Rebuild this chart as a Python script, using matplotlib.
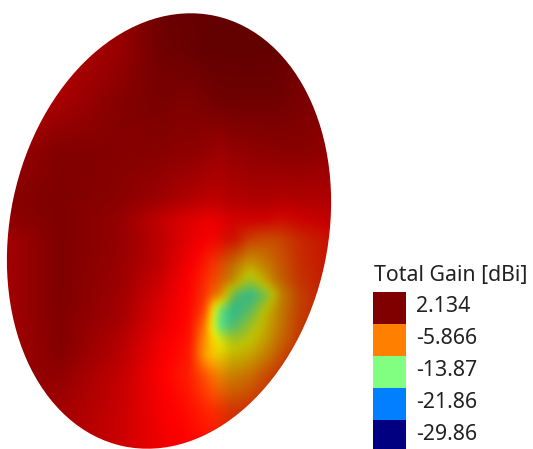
import numpy as np
import matplotlib
matplotlib.use('Agg')
import matplotlib.pyplot as plt
from matplotlib.colors import LinearSegmentedColormap
from matplotlib.patches import Ellipse, Rectangle

# legend
legend_title = 'Total Gain [dBi]'
legend_labels = ['2.134', '-5.866', '-13.87', '-21.86', '-29.86']
legend_colors = ['#800000', '#ff8000', '#80ff80', '#0080ff', '#000080']

# gain, in dBi
grid_x = [0, 60, 120, 160, 190, 205, 220, 235, 250, 265, 280, 300, 340]
grid_y = [0, 50, 100, 150, 200, 220, 240, 265, 280, 295, 310, 325, 340, 355, 375, 410, 449]
gain = [
    [0.0, 0.0, 0.8, 2.0, 2.1, 2.1, 2.1, 2.1, 2.1, 2.1, 2.0, 1.5, 1.5],
    [0.0, 0.0, 0.8, 2.0, 2.1, 2.1, 2.1, 2.1, 2.1, 2.1, 2.0, 1.5, 1.5],
    [0.0, 0.8, 1.9, 2.0, 1.5, 1.5, 1.6, 1.6, 1.6, 1.6, 1.5, 1.1, 1.1],
    [1.0, 2.0, 1.9, 1.7, 1.3, 0.9, 0.3, 0.4, 0.5, 0.6, 0.7, 0.7, 0.1],
    [1.8, 2.1, 1.7, 1.1, 0.4, 0.0, -0.4, -0.6, -0.5, -0.5, -0.8, -0.8, -1.0],
    [1.5, 2.1, 1.4, 0.0, -1.0, -1.5, -1.8, -2.0, -1.9, -2.0, -2.5, -2.1, -1.6],
    [0.8, 2.1, 1.4, 0.2, -1.2, -1.9, -2.3, -2.7, -4.5, -5.0, -4.7, -3.5, -2.3],
    [0.8, 2.1, 1.3, 0.0, -1.7, -2.8, -4.3, -6.7, -8.4, -7.1, -5.5, -3.8, -2.3],
    [0.8, 2.1, 1.2, -0.3, -2.0, -3.2, -5.0, -8.0, -11.5, -8.5, -6.0, -4.0, -2.3],
    [0.8, 2.1, 1.1, -0.6, -2.1, -3.5, -6.5, -14.0, -16.0, -13.0, -7.5, -4.5, -2.4],
    [0.8, 2.1, 1.0, -0.9, -2.2, -4.0, -14.0, -16.0, -14.0, -10.0, -7.0, -4.5, -2.4],
    [0.8, 2.0, 0.8, -1.1, -2.3, -5.5, -15.0, -14.5, -11.5, -9.0, -6.8, -4.2, -2.4],
    [0.8, 2.0, 0.5, -1.4, -2.5, -6.5, -10.5, -11.0, -10.0, -8.3, -6.2, -4.0, -2.4],
    [0.8, 1.9, 0.3, -1.6, -2.7, -7.0, -9.0, -9.2, -8.5, -7.0, -5.2, -3.2, -2.2],
    [1.6, 1.5, 0.0, -1.8, -2.9, -4.5, -6.5, -7.0, -6.3, -5.0, -3.8, -2.8, -2.0],
    [1.0, 1.0, -0.2, -1.6, -2.4, -3.0, -3.6, -4.0, -3.6, -3.0, -2.6, -2.2, -2.0],
    [0.8, 0.8, -0.3, -1.4, -1.9, -2.2, -2.4, -2.4, -2.4, -2.2, -2.0, -2.0, -2.0],
]

# surface darkening from the lighting, 0 = none
shade_x = [0, 120, 180, 212, 232, 340]
shade_y = [0, 50, 100, 200, 300, 449]
shade = [
    [0.0, 0.1, 0.2, 0.22, 0.22, 0.22],
    [0.0, 0.1, 0.15, 0.22, 0.22, 0.22],
    [0.0, 0.0, 0.1, 0.2, 0.22, 0.22],
    [0.0, 0.0, 0.0, 0.05, 0.15, 0.22],
    [0.0, 0.0, 0.0, 0.02, 0.28, 0.22],
    [0.0, 0.0, 0.0, 0.0, 0.15, 0.2],
]

# outline of the surface
center = (169, 231)
width, height, angle = 318, 440, 12

gain_cmap = LinearSegmentedColormap.from_list('gain', [
    (0.0, '#000080'), (0.125, '#0000ff'), (0.375, '#00ffff'),
    (0.625, '#ffff00'), (0.875, '#ff0000'), (1.0, '#800000')])


def resample(xs, ys, table, px, py):
    # bilinear lookup of a read-off table on the pixel raster
    table = np.array(table, dtype=float)
    rows = np.array([np.interp(px, xs, r) for r in table])
    return np.array([np.interp(py, ys, c) for c in rows.T]).T


def soften(img, n=7):
    k = np.ones(n) / n
    for axis in (0, 1):
        pad = [(n, n) if a == axis else (0, 0) for a in range(2)] + [(0, 0)] * (img.ndim - 2)
        img = np.apply_along_axis(lambda m: np.convolve(m, k, mode='same'), axis,
                                  np.pad(img, pad, mode='edge'))
        img = np.take(img, np.arange(n, img.shape[axis] - n), axis=axis)
    return img


px = np.arange(0, 341) + 0.5
py = np.arange(0, 449) + 0.5
gain_img = resample(grid_x, grid_y, gain, px, py)
shade_img = resample(shade_x, shade_y, shade, px, py)
rgb = gain_cmap((gain_img + 29.86) / (2.134 + 29.86))[..., :3] * (1 - shade_img[..., None])
rgb = soften(soften(rgb, 9), 7)

fig = plt.figure(figsize=(5.33, 4.49), dpi=100)
ax = fig.add_axes([0, 0, 1, 1])
ax.set_xlim(0, 533)
ax.set_ylim(449, 0)
ax.axis('off')

outline = Ellipse(center, width, height, angle=angle, transform=ax.transData)
im = ax.imshow(rgb, extent=(0, 341, 449, 0), aspect='auto', interpolation='bilinear')
ax.set_xlim(0, 533)
ax.set_ylim(449, 0)
im.set_clip_path(outline)

ax.text(374, 275, legend_title, fontsize=15.3, family='Noto Sans', color='#222222', va='center', ha='left')
for i, (lab, col) in enumerate(zip(legend_labels, legend_colors)):
    ax.add_patch(Rectangle((373, 292 + i * 32), 33, 32, fc=col, ec='none'))
    ax.text(416, 307 + i * 32, lab, fontsize=15.3, family='Noto Sans', color='#222222', va='center', ha='left')

fig.savefig('out.png', dpi=100)
